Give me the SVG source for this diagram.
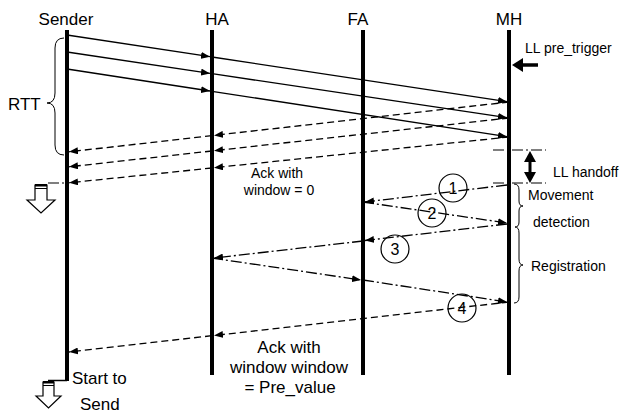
<svg xmlns="http://www.w3.org/2000/svg" width="620" height="419" viewBox="0 0 620 419">
<style>
text{font-family:"Liberation Sans",Arial,sans-serif;fill:#000}
.hdr{font-size:17px;text-anchor:middle}
.lbl{font-size:14px}
.big{font-size:17px}
.life{stroke:#000;stroke-width:4;fill:none}
.solid{stroke:#000;stroke-width:1.3;fill:none;marker-end:url(#ah)}
.dash{stroke:#000;stroke-width:1.3;fill:none;stroke-dasharray:7 4;marker-end:url(#ah)}
.dd{stroke:#000;stroke-width:1.3;fill:none;stroke-dasharray:11 3 2 3;marker-end:url(#ah)}
.ddn{stroke:#000;stroke-width:1.2;fill:none;stroke-dasharray:11 3 2 3}
.brace{stroke:#000;stroke-width:1;fill:none}
.circ{stroke:#000;stroke-width:1.2;fill:none}
.num{font-size:16px;text-anchor:middle}
.hollow{stroke:#000;stroke-width:1.2;fill:#fff}
</style>
<defs>
<marker id="ah" markerUnits="userSpaceOnUse" markerWidth="9" markerHeight="7" refX="9" refY="3.5" orient="auto">
<path d="M0,0 L9,3.5 L0,7 z" fill="#000"/>
</marker>
</defs>

<g id="sender">
<text class="hdr" x="66" y="25">Sender</text>
<line class="life" x1="67" y1="30" x2="67" y2="381"/>
</g>
<g id="ha">
<text class="hdr" x="217" y="25">HA</text>
<line class="life" x1="212" y1="30" x2="212" y2="375"/>
</g>
<g id="fa">
<text class="hdr" x="358" y="25">FA</text>
<line class="life" x1="363" y1="30" x2="363" y2="375"/>
</g>
<g id="mh">
<text class="hdr" x="509" y="25">MH</text>
<line class="life" x1="509" y1="30" x2="509" y2="375"/>
</g>

<g id="rtt">
<path class="brace" d="M64,38 Q55,38 55,48 L55,93 Q55,103 47,103 Q55,103 55,113 L55,145 Q55,155 64,155"/>
<text class="big" x="8" y="110">RTT</text>
</g>

<g id="pretrigger">
<line x1="538" y1="65" x2="520" y2="65" stroke="#000" stroke-width="3.5"/>
<path d="M512,65 L523,58 L523,72 z" fill="#000"/>
<text class="lbl" x="525" y="53">LL pre_trigger</text>
</g>

<g id="handoff">
<line class="ddn" x1="493" y1="150" x2="546" y2="150"/>
<line class="ddn" x1="493" y1="183" x2="546" y2="183"/>
<line x1="530" y1="160" x2="530" y2="174" stroke="#000" stroke-width="3"/>
<path d="M530,151 L536,162 L524,162 z" fill="#000"/>
<path d="M530,183 L536,172 L524,172 z" fill="#000"/>
<text class="lbl" x="553" y="177">LL handoff</text>
</g>

<g id="mip-brace">
<path class="brace" d="M514,184 Q519,184 519,190 L519,201 Q519,206 523,206 Q519,206 519,211 L519,222 Q519,227 515,227"/>
<path class="brace" d="M515,227 Q519,227 519,233 L519,259 Q519,265 523,265 Q519,265 519,271 L519,297 Q519,303 514,303"/>
<text class="lbl" x="528" y="200">Movement</text>
<text class="lbl" x="533" y="227">detection</text>
<text class="lbl" x="531" y="271">Registration</text>
</g>

<g id="stop-arrow">
<line class="ddn" x1="48" y1="183" x2="66" y2="183"/>
<path class="hollow" d="M35,185 L47,185 L47,200 L55,200 L41,213 L27,200 L35,200 z"/>
<rect x="35" y="184" width="12" height="2.5" fill="#000"/>
<line x1="35" y1="188.5" x2="47" y2="188.5" stroke="#000" stroke-width="1"/>
</g>

<g id="start-arrow">
<line x1="48" y1="380.5" x2="67" y2="380.5" stroke="#000" stroke-width="1.5"/>
<path class="hollow" d="M43,382 L54,382 L54,396 L61,396 L48.5,408 L36,396 L43,396 z"/>
<rect x="43" y="381" width="11" height="2.5" fill="#000"/>
<line x1="43" y1="385.5" x2="54" y2="385.5" stroke="#000" stroke-width="1"/>
<text class="big" x="72" y="384">Start to</text>
<text class="big" x="80" y="410">Send</text>
</g>

<g id="connectors">
<path class="solid" d="M67,35 L210,56.7"/>
<path class="solid" d="M212,57 L507,101.7"/>
<path class="solid" d="M67,52 L210,73.4"/>
<path class="solid" d="M212,73.7 L507,117.7"/>
<path class="solid" d="M67,69 L210,91"/>
<path class="solid" d="M212,91.3 L507,136.7"/>

<path class="dash" d="M509,102 L214,135.4"/>
<path class="dash" d="M212,135.6 L69,151.8"/>
<path class="dash" d="M509,118 L214,150.7"/>
<path class="dash" d="M212,151 L69,166.8"/>
<path class="dash" d="M509,137 L214,167.7"/>
<path class="dash" d="M212,168 L69,182.8"/>

<path class="dd" d="M507,185 L365,202"/>
<path class="dd" d="M363,202 L507,223"/>
<path class="dd" d="M507,224 L365,240.5"/>
<path class="dd" d="M363,241 L214,258"/>
<path class="dd" d="M212,258 L361,280"/>
<path class="dd" d="M363,280 L507,302"/>

<path class="dash" d="M509,302 L214,335.5"/>
<path class="dash" d="M212,335.7 L69,352"/>
</g>

<g id="steps">
<circle class="circ" cx="453" cy="188" r="14"/>
<text class="num" x="453" y="194">1</text>
<circle class="circ" cx="432" cy="213" r="14"/>
<text class="num" x="432" y="219">2</text>
<circle class="circ" cx="395" cy="249" r="14"/>
<text class="num" x="395" y="255">3</text>
<circle class="circ" cx="462" cy="308" r="14"/>
<text class="num" x="462" y="314">4</text>
</g>

<g id="ack-labels">
<text class="lbl" x="277" y="178" text-anchor="middle">Ack with</text>
<text class="lbl" x="279" y="195" text-anchor="middle">window = 0</text>
<text class="big" x="289" y="353" text-anchor="middle">Ack with</text>
<text class="big" x="289" y="373" text-anchor="middle">window window</text>
<text class="big" x="290" y="393" text-anchor="middle">= Pre_value</text>
</g>
</svg>
